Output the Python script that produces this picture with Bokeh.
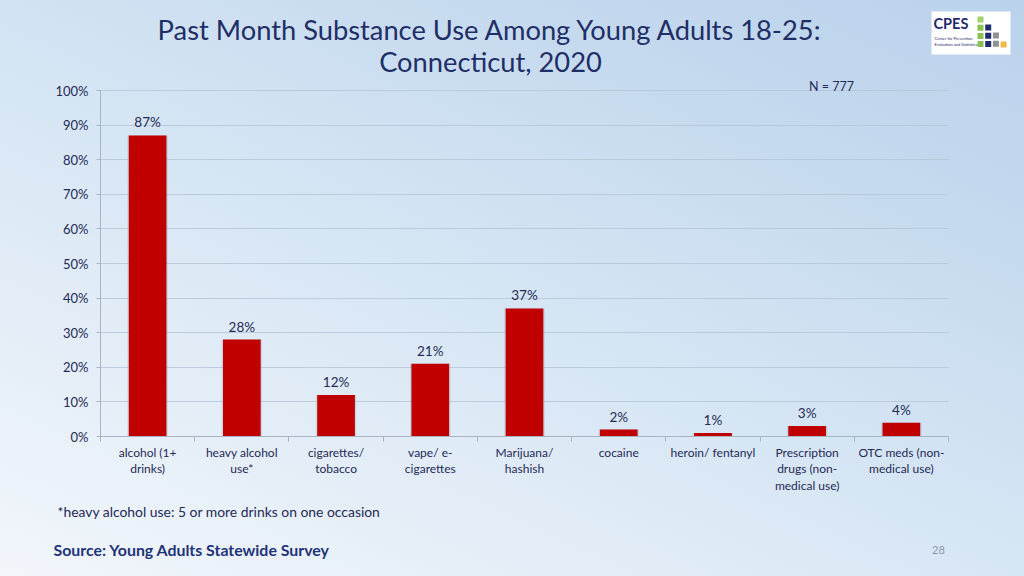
from bokeh.plotting import figure
from bokeh.models import (ColumnDataSource, LabelSet, Label, BoxAnnotation, FixedTicker,
                          PrintfTickFormatter, Range1d)
from bokeh.core.properties import value
from bokeh.embed import file_html
from bokeh.resources import INLINE

# ---- data ----
categories = ["alcohol (1+\ndrinks)", "heavy alcohol\nuse*", "cigarettes/\ntobacco",
              "vape/ e-\ncigarettes", "Marijuana/\nhashish", "cocaine", "heroin/ fentanyl",
              "Prescription\ndrugs (non-\nmedical use)", "OTC meds (non-\nmedical use)"]
values = [87, 28, 12, 21, 37, 2, 1, 3, 4]
y_ticks = [0, 10, 20, 30, 40, 50, 60, 70, 80, 90, 100]

title_lines = ["Past Month Substance Use Among Young Adults 18-25:", "Connecticut, 2020"]
n_note = "N = 777"
footnote = "*heavy alcohol use: 5 or more drinks on one occasion"
source_note = "Source: Young Adults Statewide Survey"
page_no = "28"

FONT = "Lato"
NAVY = "#1f2f66"
TXT = "#1f2a55"
AX = "#a8b4c2"

W, H = 1024, 576
# chart area in page pixels (the frame spans the whole canvas; axes are fixed at 0)
PL, PR, PT, PB = 100, 948, 90, 436
ncat = len(categories)
ux = (PR - PL) / ncat
uy = (PB - PT) / 100.0

centers = [i + 0.5 for i in range(ncat)]
source = ColumnDataSource(dict(x=centers, top=values,
                               label=[f"{v}%" for v in values]))

p = figure(width=W, height=H, output_backend="svg", toolbar_location=None,
           x_range=Range1d(-PL / ux, ncat + (W - PR) / ux),
           y_range=Range1d(-(H - PB) / uy, 100 + PT / uy),
           min_border=0, background_fill_alpha=0, border_fill_alpha=0,
           outline_line_color=None,
           styles={"background": "linear-gradient(25deg, #f2f6fb 0%, #dae8f5 42%, #c6daef 75%, #bad2eb 100%)"})

# bar shadow + bars
p.vbar(x="x", top="top", width=0.43, source=source, fill_color="#5d6a7a", fill_alpha=0.16,
       line_color=None)
p.vbar(x="x", top="top", width=0.40, source=source, fill_color="#c00000", line_color=None)

p.add_layout(LabelSet(x="x", y="top", text="label", source=source, y_offset=5,
                      text_align="center", text_baseline="bottom", text_font=value(FONT),
                      text_font_size="13.5px", text_color=TXT))

# axes
xa = p.xaxis[0]
xa.fixed_location = 0
xa.bounds = (0, ncat)
xa.ticker = FixedTicker(ticks=centers, minor_ticks=list(range(ncat + 1)))
xa.major_label_overrides = {c: lab for c, lab in zip(centers, categories)}
xa.major_tick_out = 0
xa.major_tick_in = 0
xa.minor_tick_out = 5
xa.minor_tick_in = 0
xa.minor_tick_line_color = AX
xa.axis_line_color = AX
xa.major_label_standoff = 3
xa.major_label_text_font = FONT
xa.major_label_text_font_size = "12px"
xa.major_label_text_color = TXT
xa.major_label_text_line_height = 1.1

ya = p.yaxis[0]
ya.fixed_location = 0
ya.bounds = (0, 100)
ya.ticker = FixedTicker(ticks=y_ticks)
ya.formatter = PrintfTickFormatter(format="%d%%")
ya.minor_tick_line_color = None
ya.major_tick_out = 4
ya.major_tick_in = 0
ya.major_tick_line_color = AX
ya.axis_line_color = AX
ya.major_label_standoff = 8
ya.major_label_text_font = FONT
ya.major_label_text_font_size = "13px"
ya.major_label_text_color = TXT

p.xgrid.grid_line_color = None
p.ygrid.grid_line_color = "#b4c4d6"
p.ygrid.grid_line_alpha = 0.8
p.ygrid.bounds = (0, 100)
p.ygrid.cross_bounds = (0, ncat)

# page-pixel helper (frame == canvas, screen y measured upward from bottom)
def add_label(text, px, py, size, color, align="left", style="normal"):
    p.add_layout(Label(x=px, y=H - py, x_units="screen", y_units="screen", text=text,
                       text_align=align, text_baseline="middle", text_font=FONT,
                       text_font_size=size, text_color=color, text_font_style=style))

add_label(title_lines[0], 490, 29, "27.3px", NAVY, "center")
add_label(title_lines[1], 490, 61, "27.3px", NAVY, "center")
add_label(n_note, 831, 86, "12.5px", TXT, "center")
add_label(footnote, 57, 511, "13.9px", TXT)
add_label(source_note, 53, 549, "15.9px", "#1f3478", style="bold")
add_label(page_no, 938, 549, "11px", "#8797ad", "center")

# logo (decoration)
def box(l, t, r, b, color):
    p.add_layout(BoxAnnotation(left=l, right=r, top=H - t, bottom=H - b,
                               left_units="screen", right_units="screen",
                               top_units="screen", bottom_units="screen",
                               fill_color=color, fill_alpha=1, line_color=None))

box(931, 11, 1010, 54, "white")
logo_cols = [("#a6d06a", 16), ("#1f2a6b", 24), ("#8f9194", 32), ("#f2b847", 41)]
for ci, (col, top) in enumerate(logo_cols):
    x0 = 977 + ci * 7.7
    y = top
    while y < 47:
        box(x0, y, x0 + 6, y + 6, "#8cc152" if (ci == 0 and y > 20) else col)
        y += 8.2
add_label("CPES", 933, 23, "14.5px", "#1f2a6b", style="bold")
add_label("Center for Prevention", 934, 38, "4px", "#1f2a6b")
add_label("Evaluation and Statistics", 934, 44, "4px", "#1f2a6b")

open("out.html", "w").write(file_html(p, INLINE))
